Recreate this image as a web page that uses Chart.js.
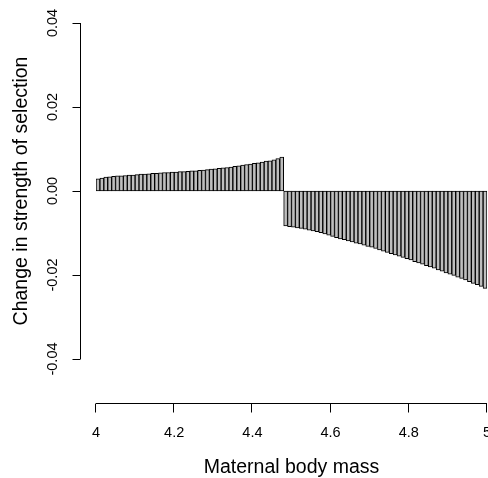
<!DOCTYPE html>
<html>
<head>
<meta charset="utf-8">
<title>Change in strength of selection</title>
<script src="https://cdn.jsdelivr.net/npm/chart.js@4.4.1/dist/chart.umd.min.js"></script>
<style>
    html, body { margin: 0; padding: 0; background: #fff; }
    #selectionChart { display: block; }
</style>
</head>
<body>
<canvas id="selectionChart" width="488" height="478"></canvas>
<script>
// Bins of maternal body mass, 0.01 wide, starting at 4.00
const binStart = 4.0;
const binWidth = 0.01;

// Change in selection strength per bin (mass 4.00 - 4.48)
const gainValues = [
    0.0029, 0.0031, 0.0033, 0.0034, 0.0035, 0.0036, 0.0036, 0.0037, 0.0038, 0.0038,
    0.0039, 0.0040, 0.0040, 0.0041, 0.0042, 0.0042, 0.0043, 0.0044, 0.0044, 0.0045,
    0.0045, 0.0046, 0.0046, 0.0047, 0.0048, 0.0048, 0.0049, 0.0050, 0.0051, 0.0052,
    0.0053, 0.0054, 0.0055, 0.0056, 0.0057, 0.0059, 0.0060, 0.0062, 0.0063, 0.0064,
    0.0066, 0.0067, 0.0069, 0.0071, 0.0072, 0.0074, 0.0077, 0.0081
];

// Change in selection strength per bin (mass 4.48 - 5.00)
const lossValues = [
    -0.0083, -0.0085, -0.0086, -0.0088, -0.0089, -0.0091, -0.0093, -0.0095, -0.0097, -0.0099,
    -0.0102, -0.0105, -0.0108, -0.0111, -0.0114, -0.0116, -0.0119, -0.0121, -0.0124, -0.0126,
    -0.0129, -0.0132, -0.0134, -0.0137, -0.0140, -0.0143, -0.0146, -0.0149, -0.0152, -0.0155,
    -0.0158, -0.0161, -0.0164, -0.0168, -0.0171, -0.0174, -0.0178, -0.0181, -0.0184, -0.0188,
    -0.0191, -0.0195, -0.0198, -0.0201, -0.0205, -0.0208, -0.0212, -0.0216, -0.0220, -0.0223,
    -0.0227, -0.0232
];

// Axis ticks
const xTickValues = [4, 4.2, 4.4, 4.6, 4.8, 5];
const xTickLabels = ['4', '4.2', '4.4', '4.6', '4.8', '5'];
const yTickValues = [-0.04, -0.02, 0, 0.02, 0.04];
const yTickLabels = ['-0.04', '-0.02', '0.00', '0.02', '0.04'];

const xTitle = 'Maternal body mass';
const yTitle = 'Change in strength of selection';

const FONT = '"Liberation Sans", Arial, Helvetica, sans-serif';

// Bars placed at bin centres
const strengthValues = gainValues.concat(lossValues);
const barPoints = strengthValues.map((v, i) => ({
    x: +(binStart + (i + 0.5) * binWidth).toFixed(3),
    y: v
}));

// Base-graphics style axes, drawn detached from the plot region
const detachedAxes = {
    id: 'detachedAxes',
    afterDraw(chart) {
        const ctx = chart.ctx;
        const area = chart.chartArea;
        const xs = chart.scales.x;
        const ys = chart.scales.y;

        ctx.save();
        ctx.strokeStyle = '#000';
        ctx.fillStyle = '#000';
        ctx.lineWidth = 1;

        // x axis
        const axisY = Math.round(area.bottom + 44) + 0.5;
        ctx.beginPath();
        ctx.moveTo(xs.getPixelForValue(xTickValues[0]), axisY);
        ctx.lineTo(xs.getPixelForValue(xTickValues[xTickValues.length - 1]), axisY);
        xTickValues.forEach(v => {
            const px = Math.round(xs.getPixelForValue(v)) - 0.5;
            ctx.moveTo(px, axisY);
            ctx.lineTo(px, axisY + 9);
        });
        ctx.stroke();

        ctx.font = '14.5px ' + FONT;
        ctx.textAlign = 'center';
        ctx.textBaseline = 'alphabetic';
        xTickValues.forEach((v, i) => {
            ctx.fillText(xTickLabels[i], xs.getPixelForValue(v), 437);
        });

        // y axis
        const axisX = Math.round(area.left - 16) + 0.5;
        ctx.beginPath();
        ctx.moveTo(axisX, ys.getPixelForValue(yTickValues[0]));
        ctx.lineTo(axisX, ys.getPixelForValue(yTickValues[yTickValues.length - 1]));
        yTickValues.forEach(v => {
            const py = Math.round(ys.getPixelForValue(v)) + 0.5;
            ctx.moveTo(axisX, py);
            ctx.lineTo(axisX - 8, py);
        });
        ctx.stroke();

        yTickValues.forEach((v, i) => {
            ctx.save();
            ctx.translate(57, ys.getPixelForValue(v));
            ctx.rotate(-Math.PI / 2);
            ctx.fillText(yTickLabels[i], 0, 0);
            ctx.restore();
        });

        // axis titles
        ctx.font = '19.5px ' + FONT;
        ctx.fillText(xTitle, (area.left + area.right) / 2, 473);

        ctx.save();
        ctx.translate(27, (area.top + area.bottom) / 2);
        ctx.rotate(-Math.PI / 2);
        ctx.fillText(yTitle, 0, 0);
        ctx.restore();

        ctx.restore();
    }
};

const chart = new Chart(document.getElementById('selectionChart'), {
    type: 'bar',
    data: {
        datasets: [{
            data: barPoints,
            backgroundColor: '#bebebe',
            borderColor: '#000',
            borderWidth: 1,
            borderSkipped: false,
            barPercentage: 1,
            categoryPercentage: 1
        }]
    },
    options: {
        responsive: false,
        animation: false,
        devicePixelRatio: 1,
        layout: {
            padding: { left: 96, right: 1, top: 23, bottom: 119 }
        },
        plugins: {
            legend: { display: false },
            tooltip: { enabled: false }
        },
        scales: {
            x: {
                type: 'linear',
                display: false,
                offset: false,
                min: 4,
                max: 5
            },
            y: {
                type: 'linear',
                display: false,
                min: -0.04,
                max: 0.04
            }
        }
    },
    plugins: [detachedAxes]
});
</script>
</body>
</html>
